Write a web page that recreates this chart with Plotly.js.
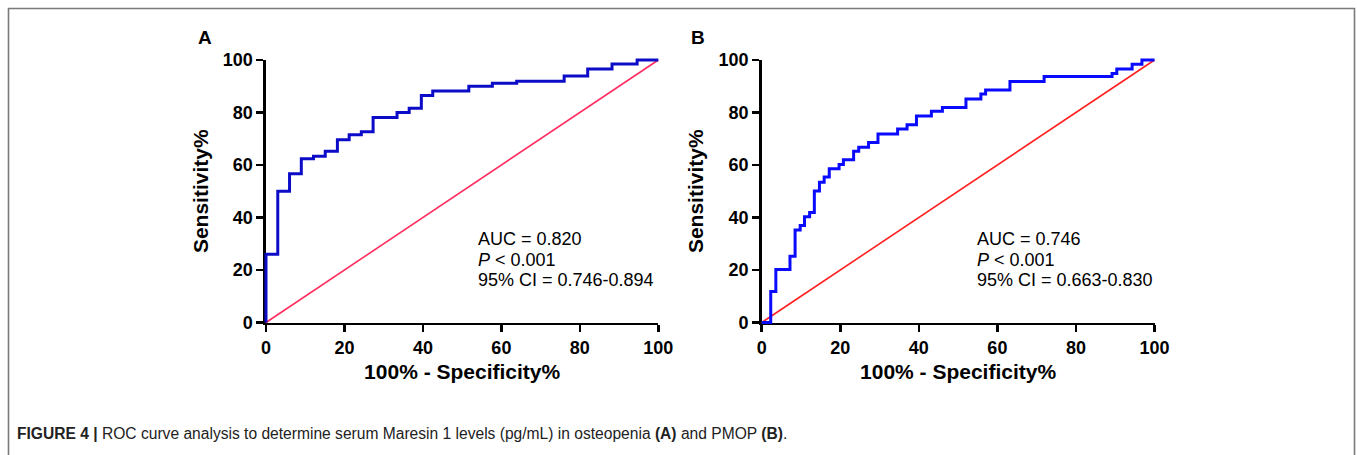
<!DOCTYPE html>
<html>
<head>
<meta charset="utf-8">
<script src="https://cdn.plot.ly/plotly-3.0.1.min.js"></script>
<style>html,body{margin:0;padding:0;background:#fff;}#chart{width:1357px;height:455px;}</style>
</head>
<body>
<div id="chart"></div>
<script>
// ---- data ----
const fprA = [0, 0, 3, 6, 9, 12.1, 15.1, 18.2, 21.2, 24.3, 27.3, 33.4, 36.5, 39.6, 42.5, 51.7, 57.7, 63.9, 76, 82, 88.2, 94.6, 100];
const tprA = [0, 26, 50, 56.7, 62.4, 63.3, 65.2, 69.6, 71.5, 72.7, 78.1, 80, 81.6, 86.5, 88.2, 90, 91.1, 91.9, 93.9, 96.6, 98.5, 100, 100];
const fprB = [0, 2.3, 3.6, 7.2, 8.5, 9.8, 10.9, 12.2, 13.4, 14.7, 15.9, 17.2, 19.7, 20.8, 23.4, 24.7, 27.2, 29.6, 34.6, 37, 39.4, 43.2, 46, 52, 55.8, 57, 63.2, 71.9, 89.2, 90.4, 94.3, 96.8, 100];
const tprB = [0, 11.8, 20.2, 25.2, 35.2, 37, 40.3, 41.9, 50.1, 53.4, 55.4, 58.6, 60.2, 62, 65.2, 66.8, 68.6, 71.8, 73.7, 75.3, 78.7, 80.5, 81.9, 85.1, 87, 88.6, 91.8, 93.7, 94.9, 96.6, 98.4, 100, 100];
const refLine = [0, 100];
const tickVals = [0, 20, 40, 60, 80, 100];
const tickText = ['0', '20', '40', '60', '80', '100'];
const statsA = ['AUC = 0.820', '<i>P</i> < 0.001', '95% CI = 0.746-0.894'];
const statsB = ['AUC = 0.746', '<i>P</i> < 0.001', '95% CI = 0.663-0.830'];
const panelLabels = ['A', 'B'];
const xTitle = '100% - Specificity%';
const yTitle = 'Sensitivity%';
const caption = '<b>FIGURE 4 |</b> ROC curve analysis to determine serum Maresin 1 levels (pg/mL) in osteopenia <b>(A)</b> and PMOP <b>(B)</b>.';

// ---- layout geometry (pixels) ----
const W = 1357, H = 455;
const FONT = 'Arial, "Liberation Sans", Helvetica, sans-serif';
const px = v => v / W;
const py = v => 1 - v / H;
const domXA = [px(266), px(658.3)];
const domXB = [px(761.7), px(1154.5)];
const domY = [py(322.5), py(60)];

function extend(dom, total, pad) {
  const len = (dom[1] - dom[0]) * total;
  const upp = 100 / len;
  return {domain: [dom[0] - pad / total, dom[1] + pad / total], range: [-pad * upp, 100 + pad * upp]};
}
const PAD = 5;
const exA = extend(domXA, W, PAD), exB = extend(domXB, W, PAD), exY = extend(domY, H, PAD);

const tickFont = {family: FONT, size: 18, color: '#000', weight: 'bold'};
const titleFont = {family: FONT, size: 21, color: '#000', weight: 'bold'};

function visX(dom, anchor) {
  return {domain: dom, anchor: anchor, range: [0, 100], showline: true, linecolor: '#000', linewidth: 2.6,
    ticks: 'outside', ticklen: 7, tickwidth: 2.6, tickcolor: '#000', tickvals: tickVals, ticktext: tickText,
    tickfont: tickFont, showgrid: false, zeroline: false, fixedrange: true,
    title: {text: xTitle, font: titleFont, standoff: 8}};
}
function visY(anchor) {
  return {domain: domY, anchor: anchor, range: [0, 100], showline: true, linecolor: '#000', linewidth: 2.6,
    ticks: 'outside', ticklen: 7, tickwidth: 2.6, tickcolor: '#000', tickvals: tickVals, ticktext: tickText,
    tickfont: tickFont, showgrid: false, zeroline: false, fixedrange: true,
    title: {text: yTitle, font: titleFont, standoff: 9}};
}
function hidden(ex, anchor) {
  return {domain: ex.domain, range: ex.range, anchor: anchor, visible: false, fixedrange: true,
    showgrid: false, zeroline: false};
}

const traces = [
  {x: [], y: [], xaxis: 'x', yaxis: 'y', type: 'scatter', mode: 'lines', showlegend: false, hoverinfo: 'skip'},
  {x: [], y: [], xaxis: 'x2', yaxis: 'y2', type: 'scatter', mode: 'lines', showlegend: false, hoverinfo: 'skip'},
  {x: refLine, y: refLine, xaxis: 'x3', yaxis: 'y3', type: 'scatter', mode: 'lines',
    line: {color: '#ff2d5f', width: 1.6}, showlegend: false},
  {x: fprA, y: tprA, xaxis: 'x3', yaxis: 'y3', type: 'scatter', mode: 'lines',
    line: {color: '#0c0cc8', width: 3, shape: 'hv'}, showlegend: false},
  {x: refLine, y: refLine, xaxis: 'x4', yaxis: 'y4', type: 'scatter', mode: 'lines',
    line: {color: '#ff1f1f', width: 1.6}, showlegend: false},
  {x: fprB, y: tprB, xaxis: 'x4', yaxis: 'y4', type: 'scatter', mode: 'lines',
    line: {color: '#0a0aff', width: 3, shape: 'hv'}, showlegend: false}
];

const statFont = {family: FONT, size: 18, color: '#000'};
const annotations = [];
const statY = [31.8, 23.9, 16.2];
statsA.forEach((t, i) => annotations.push({xref: 'x', yref: 'y', x: 53.5, y: statY[i], text: t,
  showarrow: false, xanchor: 'left', yanchor: 'middle', font: statFont}));
statsB.forEach((t, i) => annotations.push({xref: 'x2', yref: 'y2', x: 54.2, y: statY[i], text: t,
  showarrow: false, xanchor: 'left', yanchor: 'middle', font: statFont}));
annotations.push({xref: 'paper', yref: 'paper', x: px(205), y: py(37), text: '<b>' + panelLabels[0] + '</b>',
  showarrow: false, xanchor: 'center', yanchor: 'middle', font: {family: FONT, size: 19, color: '#000'}});
annotations.push({xref: 'paper', yref: 'paper', x: px(698), y: py(37), text: '<b>' + panelLabels[1] + '</b>',
  showarrow: false, xanchor: 'center', yanchor: 'middle', font: {family: FONT, size: 19, color: '#000'}});
annotations.push({xref: 'paper', yref: 'paper', x: px(15), y: py(433), text: caption,
  showarrow: false, xanchor: 'left', yanchor: 'middle', font: {family: FONT, size: 15.6, color: '#222'}});

const layout = {
  width: W, height: H, margin: {l: 0, r: 0, t: 0, b: 0}, paper_bgcolor: '#fff', plot_bgcolor: 'rgba(0,0,0,0)',
  showlegend: false,
  xaxis: visX(domXA, 'y'), yaxis: visY('x'),
  xaxis2: visX(domXB, 'y2'), yaxis2: visY('x2'),
  xaxis3: hidden(exA, 'y3'), yaxis3: hidden(exY, 'x3'),
  xaxis4: hidden(exB, 'y4'), yaxis4: hidden(exY, 'x4'),
  annotations: annotations,
  shapes: [{type: 'rect', xref: 'paper', yref: 'paper', x0: px(8.5), x1: px(1354.5), y0: -0.1, y1: py(8.5),
    line: {color: '#7a7a7a', width: 1.6}, fillcolor: 'rgba(0,0,0,0)', layer: 'below'}]
};

Plotly.newPlot('chart', traces, layout, {displayModeBar: false, staticPlot: true});
</script>
</body>
</html>
